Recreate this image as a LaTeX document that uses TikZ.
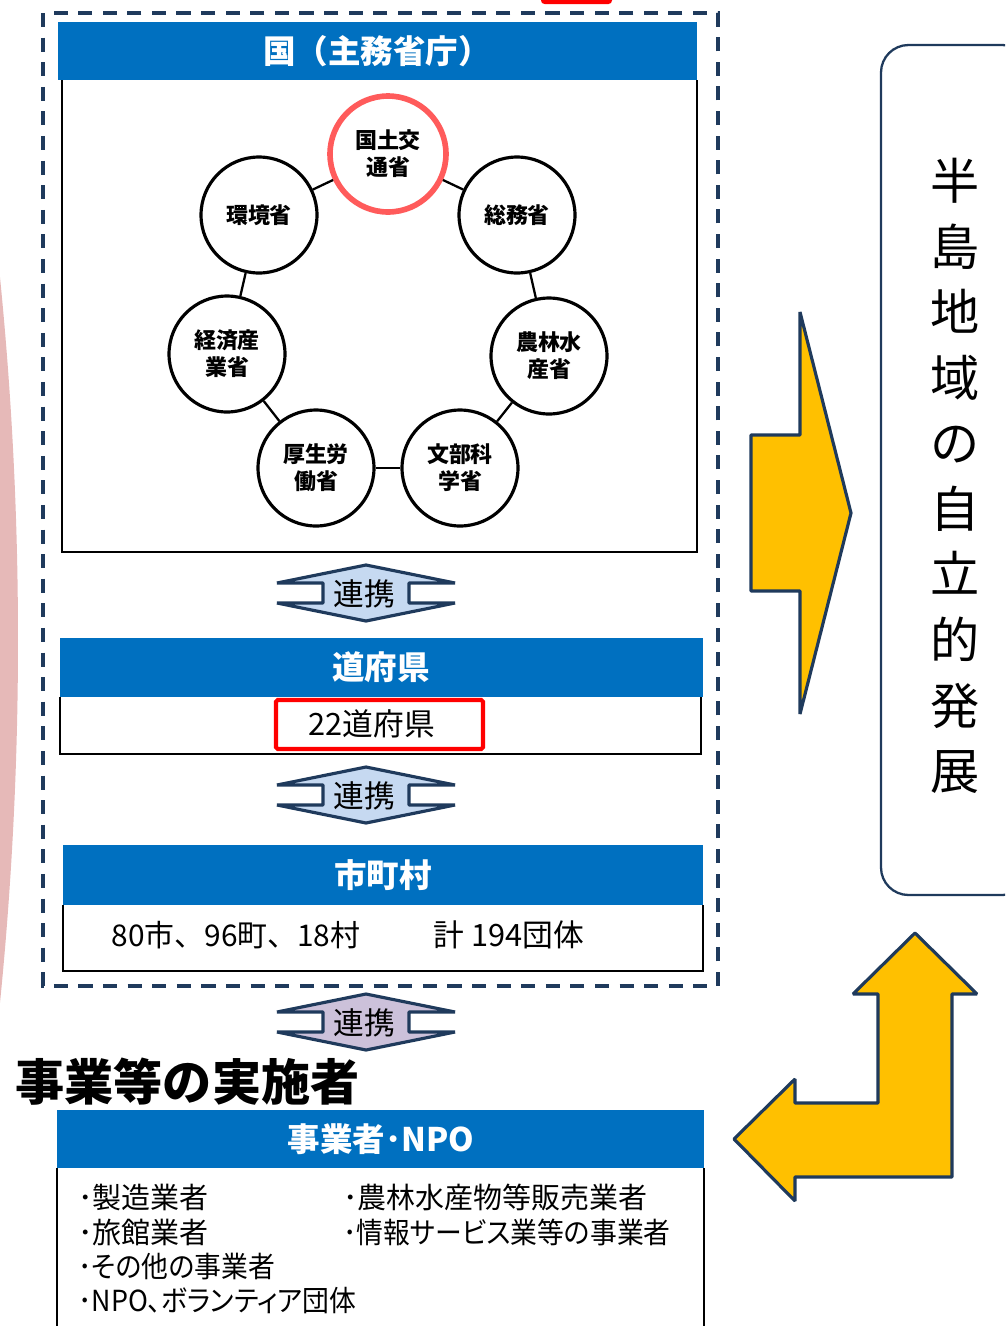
\documentclass[tikz,border=0pt]{standalone}
\usepackage{fontspec}
\setmainfont{Noto Sans CJK JP}
\newfontfamily\propfont{Noto Sans CJK JP}[RawFeature=+palt]
\newfontfamily\narrowfont{Noto Sans CJK JP}[RawFeature=+palt, FakeStretch=0.925]
\definecolor{headblue}{HTML}{0070C0}
\definecolor{navy}{HTML}{1F3A5C}
\definecolor{ringred}{HTML}{FF5B5B}
\definecolor{gold}{HTML}{FFC000}
\definecolor{pale}{HTML}{C6D9F1}
\definecolor{lilac}{HTML}{CCC1DA}
\definecolor{rose}{HTML}{E6B9B8}
\tikzset{
  ministry/.style={circle, draw, line width=1.8pt, minimum size=2.32cm, inner sep=0pt,
    align=center, font=\bfseries\fontsize{12.5}{15.4}\selectfont},
  ring/.style={line width=1.3pt},
  headtext/.style={text=white, font=\bfseries\fontsize{18.5}{20}\selectfont},
  bodytext/.style={font=\propfont\fontsize{17.5}{20}\selectfont},
  listtext/.style={anchor=west, inner sep=0pt, font=\propfont\fontsize{16.5}{18}\selectfont},
  renkei/.style={draw=navy, line width=1.8pt, line join=bevel},
  bigarrow/.style={draw=navy, fill=gold, line width=1.8pt, line join=bevel},
  boxline/.style={line width=1.1pt},
}
\begin{document}
\begin{tikzpicture}[x=0.02cm, y=-0.02cm]
\useasboundingbox (0,0) rectangle (1005,1326);
\clip (0,0) rectangle (1005,1326);

% background
\fill[rose] (-3591,640) circle (3609);
\fill[red] (541,-6) [rounded corners=2pt] rectangle (612,4);

% national level
\draw[navy, line width=2.5pt, dash pattern=on 8pt off 6pt] (43,13) rectangle (718,986);
\fill[headblue] (58,22) rectangle (697,80);
\draw[boxline] (62,80) -- (62,552) -- (697,552) -- (697,80);
\node[headtext] (kuni) at (377,51) {国（主務省庁）};

\node[ministry, draw=ringred, line width=3.2pt] (kokudo) at (388,154) {国土交\\通省};
\node[ministry] (somu) at (517,215) {総務省};
\node[ministry] (norin) at (549,356) {農林水\\産省};
\node[ministry] (monbu) at (460,468) {文部科\\学省};
\node[ministry] (kosei) at (316,468) {厚生労\\働省};
\node[ministry] (keizai) at (227,354) {経済産\\業省};
\node[ministry] (kankyo) at (259,215) {環境省};

\draw[ring] (kokudo) -- (somu);
\draw[ring] (somu) -- (norin);
\draw[ring] (norin) -- (monbu);
\draw[ring] (monbu) -- (kosei);
\draw[ring] (kosei) -- (keizai);
\draw[ring] (keizai) -- (kankyo);
\draw[ring] (kankyo) -- (kokudo);

\begin{scope}[shift = {(366,593)}]
\draw[renkei, fill=pale] (0,-28) -- (-89,-10) -- (-43,-10) -- (-43,10) -- (-89,10) -- (0,28)
  -- (89,10) -- (43,10) -- (43,-10) -- (89,-10) -- cycle;
\node[bodytext] (renkeiA) at (-2,1) {連携};
\end{scope}

% prefectures
\fill[headblue] (60,638) rectangle (703,697);
\draw[boxline] (60,697) -- (60,754) -- (701,754) -- (701,697);
\node[headtext] (dofuken) at (381,667) {道府県};
\node[bodytext] (dofukenNum) at (372,724) {22道府県};
\draw[red, line width=2.3pt, rounded corners=1pt] (276,700) rectangle (483,749);

\begin{scope}[shift = {(366,795)}]
\draw[renkei, fill=pale] (0,-28) -- (-89,-10) -- (-43,-10) -- (-43,10) -- (-89,10) -- (0,28)
  -- (89,10) -- (43,10) -- (43,-10) -- (89,-10) -- cycle;
\node[bodytext] (renkeiB) at (-2,1) {連携};
\end{scope}

% municipalities
\fill[headblue] (63,845) rectangle (703,905);
\draw[boxline] (63,905) -- (63,971) -- (703,971) -- (703,905);
\node[headtext] (shichoson) at (383,875) {市町村};
\node[font=\fontsize{17}{20}\selectfont] (shichosonNum) at (236,935) {80市、96町、18村};
\node[bodytext] (total) at (509,935) {計 194団体};

\begin{scope}[shift = {(366,1022)}]
\draw[renkei, fill=lilac] (0,-28) -- (-89,-10) -- (-43,-10) -- (-43,10) -- (-89,10) -- (0,28)
  -- (89,10) -- (43,10) -- (43,-10) -- (89,-10) -- cycle;
\node[bodytext] (renkeiC) at (-2,1) {連携};
\end{scope}

% operators
\node[anchor=west, inner sep=0pt, font=\bfseries\fontsize{28}{30}\selectfont] (jisshi) at (15,1082) {事業等の実施者};
\fill[headblue] (57,1110) rectangle (704,1168);
\draw[boxline] (57,1168) -- (57,1340);
\draw[boxline] (704,1168) -- (704,1340);
\node[headtext] (npo) at (381,1139) {事業者･NPO};
\node[listtext] (seizo) at (78,1197) {･製造業者};
\node[listtext] (ryokan) at (78,1232) {･旅館業者};
\node[listtext, font=\narrowfont\fontsize{16.5}{18}\selectfont] (sonota) at (78,1266) {･その他の事業者};
\node[listtext, font=\narrowfont\fontsize{16.5}{18}\selectfont] (volunteer) at (78,1301) {･NPO、ボランティア団体};
\node[listtext] (hanbai) at (343,1197) {･農林水産物等販売業者};
\node[listtext, font=\narrowfont\fontsize{16.5}{18}\selectfont] (joho) at (343,1232) {･情報サービス業等の事業者};

% goal
\draw[bigarrow] (800,312) -- (800,435) -- (751,435) -- (751,591) -- (800,591) -- (800,714)
  -- (851,513) -- cycle;
\draw[navy, line width=1.3pt, rounded corners=0.55cm] (881,45) rectangle (1030,895);
\node[align=center, font=\fontsize{28}{37.3}\selectfont] (hatten) at (955,476)
  {半\\島\\地\\域\\の\\自\\立\\的\\発\\展};
\draw[bigarrow] (915,933) -- (977,994) -- (952,994) -- (952,1177) -- (795,1177) -- (795,1201)
  -- (734,1139) -- (795,1079) -- (795,1103) -- (878,1103) -- (878,994) -- (853,994) -- cycle;
\end{tikzpicture}
\end{document}
